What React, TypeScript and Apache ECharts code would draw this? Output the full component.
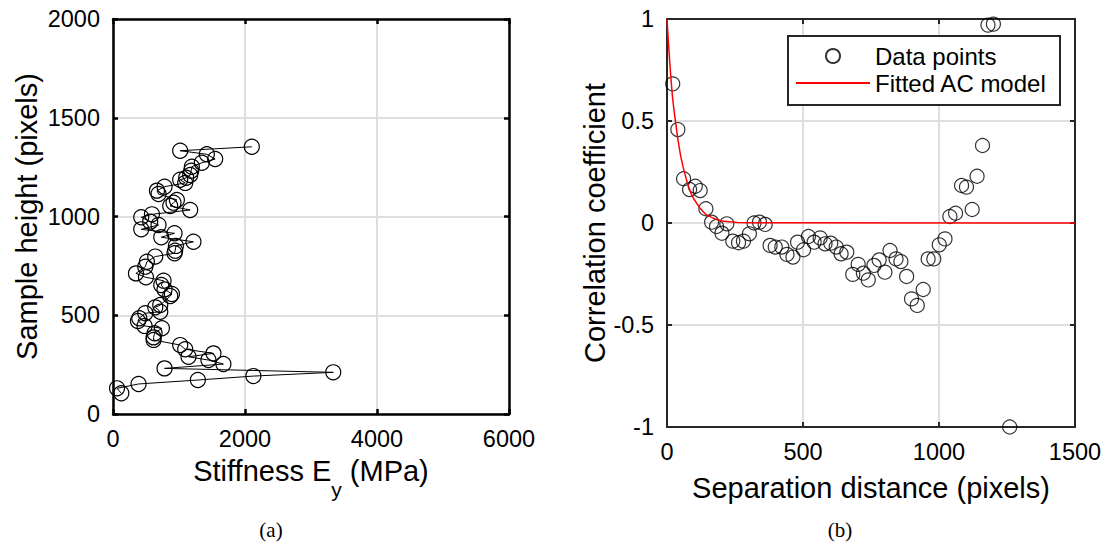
import React, { useEffect, useRef } from "react";
import * as echarts from "echarts";

// (a) stiffness profile: stiffness E_y (MPa) vs sample height (pixels)
const stiffness = [
  126, 61, 387, 1286, 2127, 3337, 781, 1673, 1446, 1144, 1522, 1094, 1018, 615, 615, 630,
  741, 478, 378, 398, 489, 716, 640, 716, 867, 893, 781, 731, 766, 499, 348, 489, 514,
  640, 932, 942, 953, 1219, 731, 932, 428, 690, 564, 428, 590, 1169, 867, 917, 968, 690,
  666, 781, 1094, 1018, 1109, 1170, 1185, 1195, 1346, 1548, 1422, 1018, 2103,
];
const heights = [
  105, 130, 152, 172, 192, 211, 231, 253, 273, 290, 307, 328, 349, 375, 388, 409,
  434, 446, 471, 485, 510, 518, 540, 552, 597, 608, 631, 653, 675, 692, 712, 746, 771,
  797, 814, 827, 851, 872, 895, 915, 935, 957, 974, 996, 1011, 1033, 1053, 1070, 1084, 1114,
  1131, 1151, 1170, 1186, 1196, 1210, 1232, 1252, 1272, 1291, 1315, 1333, 1353,
];

// (b) correlation vs separation distance
const separation = [
  21, 40, 61, 83, 104, 122, 143, 164, 182, 202, 220, 242, 263, 281, 303, 320, 340, 361,
  379, 398, 422, 441, 463, 480, 502, 520, 541, 563, 581, 602, 622, 640, 661, 683, 703,
  722, 740, 761, 780, 801, 820, 842, 860, 881, 899, 920, 942, 960, 981, 1001, 1022, 1040,
  1061, 1083, 1101, 1122, 1140, 1160, 1180, 1200, 1260,
];
const correlation = [
  0.682, 0.458, 0.217, 0.164, 0.18, 0.159, 0.07, 0.004, -0.017, -0.05, -0.004, -0.089,
  -0.097, -0.089, -0.053, 0.0, 0.004, -0.007, -0.11, -0.118, -0.118, -0.154, -0.167,
  -0.094, -0.131, -0.066, -0.094, -0.073, -0.102, -0.099, -0.118, -0.151, -0.143, -0.252,
  -0.203, -0.246, -0.279, -0.208, -0.181, -0.241, -0.135, -0.176, -0.189, -0.262, -0.372,
  -0.404, -0.326, -0.176, -0.176, -0.107, -0.078, 0.032, 0.048, 0.184, 0.176, 0.066,
  0.229, 0.38, 0.97, 0.975, -1.0,
];

// fitted AC model
const acDist = [0, 5, 10, 15, 20, 25, 30, 35, 40, 45, 50, 60, 70, 80, 90, 100, 120, 140, 160, 180, 200, 230, 260, 300, 1500];
const acValue = [1, 0.89, 0.79, 0.7, 0.62, 0.56, 0.51, 0.46, 0.41, 0.37, 0.33, 0.27, 0.22, 0.175, 0.14, 0.115, 0.075, 0.045, 0.03, 0.018, 0.01, 0.006, 0.003, 0.001, 0];

const leftXTicks = { min: 0, max: 6000, interval: 2000 };
const leftYTicks = { min: 0, max: 2000, interval: 500 };
const rightXTicks = { min: 0, max: 1500, interval: 500 };
const rightYTicks = { min: -1, max: 1, interval: 0.5 };

const FONT = '"Liberation Sans", Arial, Helvetica, sans-serif';

export default function App() {
  const ref = useRef<HTMLDivElement>(null);
  useEffect(() => {
    if (!ref.current) return;
    const chart = echarts.init(ref.current, null, { renderer: "svg" });

    const leftPairs = stiffness.map((s, i) => [s, heights[i]]);
    const rightPairs = separation.map((s, i) => [s, correlation[i]]);
    const acPairs = acDist.map((d, i) => [d, acValue[i]]);

    const mkAxis = (
      gridIndex: number,
      ticks: any,
      position: string,
      primary: boolean,
      color: string,
      lw: number,
      extra: any = {}
    ) => ({
      gridIndex,
      type: "value",
      position,
      min: ticks.min,
      max: ticks.max,
      interval: ticks.interval,
      axisLine: { show: true, onZero: false, lineStyle: { color, width: lw } },
      axisTick: { show: true, inside: true, length: 5, lineStyle: { color, width: lw } },
      axisLabel: primary
        ? {
            show: true,
            fontSize: 23.5,
            color: "#000",
            fontFamily: FONT,
            margin: 13,
            formatter: (v: number) => String(v),
          }
        : { show: false },
      splitLine: primary
        ? { show: true, lineStyle: { color: "#dedede", width: 2 } }
        : { show: false },
      ...extra,
    });

    const nameStyle = { fontSize: 29, color: "#000", fontFamily: FONT };

    chart.setOption({
      animation: false,
      textStyle: { fontFamily: FONT },
      grid: [
        { left: 113, top: 19, width: 396, height: 395 },
        { left: 667, top: 19, width: 408, height: 408 },
      ],
      xAxis: [
        mkAxis(0, leftXTicks, "bottom", true, "#000", 2.5, {
          name: "{n|Stiffness E}{s|y}{n| (MPa)}",
          nameLocation: "middle",
          nameGap: 27,
          nameTextStyle: {
            ...nameStyle,
            rich: {
              n: { fontSize: 29, fontFamily: FONT, color: "#000" },
              s: { fontSize: 21, fontFamily: FONT, color: "#000", padding: [38, 0, 0, 0] },
            },
          },
        }),
        mkAxis(0, leftXTicks, "top", false, "#000", 2.5),
        mkAxis(1, rightXTicks, "bottom", true, "#262626", 2, {
          name: "Separation distance (pixels)",
          nameLocation: "middle",
          nameGap: 46,
          nameTextStyle: nameStyle,
        }),
        mkAxis(1, rightXTicks, "top", false, "#262626", 2),
      ],
      yAxis: [
        mkAxis(0, leftYTicks, "left", true, "#000", 2.5, {
          name: "Sample height (pixels)",
          nameLocation: "middle",
          nameGap: 72,
          nameTextStyle: nameStyle,
        }),
        mkAxis(0, leftYTicks, "right", false, "#000", 2.5),
        mkAxis(1, rightYTicks, "left", true, "#262626", 2, {
          name: "Correlation coefficient",
          nameLocation: "middle",
          nameGap: 56,
          nameTextStyle: nameStyle,
        }),
        mkAxis(1, rightYTicks, "right", false, "#262626", 2),
      ],
      legend: {
        data: [
          { name: "Data points" },
          { name: "Fitted AC model", icon: "path://M0,0L60,0L60,1.5L0,1.5Z" },
        ],
        orient: "vertical",
        left: 796,
        top: 44,
        padding: 0,
        itemGap: 3,
        itemWidth: 74,
        itemHeight: 14,
        textStyle: { fontSize: 24, color: "#000", fontFamily: FONT },
        z: 10,
      },
      graphic: [
        {
          type: "rect",
          z: 3,
          shape: { x: 788, y: 36, width: 272, height: 69 },
          style: { fill: "#fff", stroke: "#262626", lineWidth: 2 },
        },
        {
          type: "text",
          x: 271,
          y: 530,
          style: {
            text: "(a)",
            fontSize: 21,
            fontFamily: '"Liberation Serif", "DejaVu Serif", serif',
            fill: "#000",
            textAlign: "center",
            textVerticalAlign: "middle",
          },
        },
        {
          type: "text",
          x: 840,
          y: 530,
          style: {
            text: "(b)",
            fontSize: 21,
            fontFamily: '"Liberation Serif", "DejaVu Serif", serif',
            fill: "#000",
            textAlign: "center",
            textVerticalAlign: "middle",
          },
        },
      ],
      series: [
        {
          type: "line",
          xAxisIndex: 0,
          yAxisIndex: 0,
          data: leftPairs,
          symbol: "circle",
          symbolSize: 15,
          showAllSymbol: true,
          clip: false,
          lineStyle: { color: "#000", width: 1 },
          itemStyle: { color: "rgba(0,0,0,0)", borderColor: "#000", borderWidth: 1.2 },
        },
        {
          type: "scatter",
          name: "Data points",
          xAxisIndex: 2,
          yAxisIndex: 2,
          data: rightPairs,
          symbol: "circle",
          symbolSize: 14,
          clip: false,
          itemStyle: { color: "rgba(0,0,0,0)", borderColor: "#000", borderWidth: 1.2 },
        },
        {
          type: "line",
          name: "Fitted AC model",
          xAxisIndex: 2,
          yAxisIndex: 2,
          data: acPairs,
          symbol: "none",
          lineStyle: { color: "#ff0000", width: 1.5 },
          itemStyle: { color: "#ff0000" },
        },
      ],
    });
    return () => chart.dispose();
  }, []);
  return (
    <div
      ref={ref}
      style={{ position: "fixed", left: 0, top: 0, width: 1107, height: 545, background: "#fff" }}
    />
  );
}
